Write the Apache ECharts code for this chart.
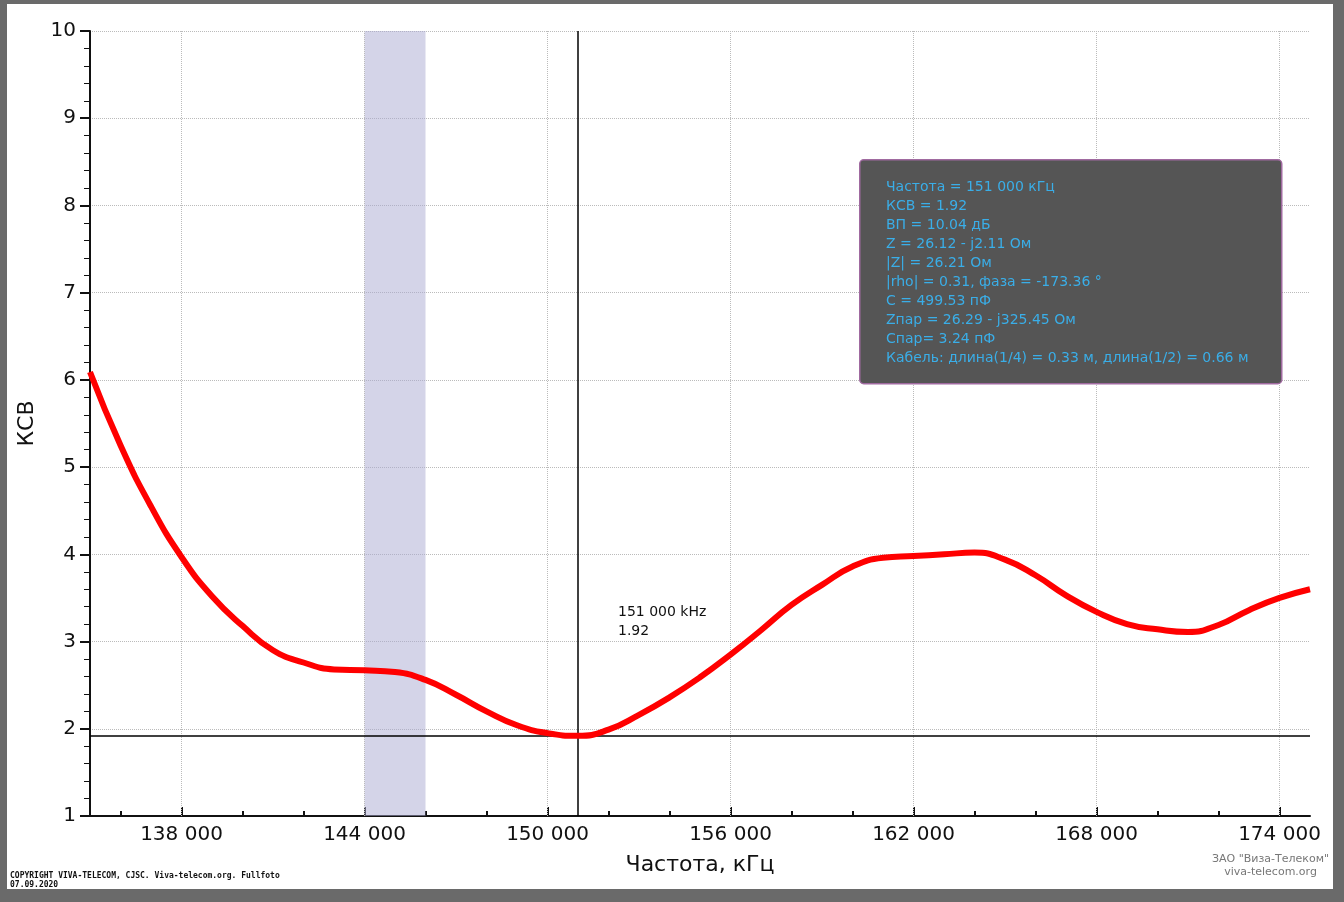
<!DOCTYPE html>
<html><head><meta charset="utf-8">
<script src="https://cdn.jsdelivr.net/npm/echarts@6/dist/echarts.min.js"></script>
<style>
html,body{margin:0;padding:0;background:#6a6a6a;}
#frame{position:absolute;left:7px;top:4px;width:1326px;height:885px;background:#fff;}
#c{position:absolute;left:0;top:0;width:1344px;height:902px;}
</style></head><body>
<div id="frame"></div>
<div id="c"></div>
<script>
const freqs = [135000,136000,137000,138000,139000,140000,141000,142000,143000,144000,145000,146000,147000,148000,149000,150000,151000,152000,153000,154000,155000,156000,157000,158000,159000,160000,161000,162000,163000,164000,165000,166000,167000,168000,169000,170000,171000,172000,173000,174000,175000];
const swr = [6.09,5.25,4.55,3.97,3.52,3.18,2.9,2.76,2.68,2.67,2.65,2.56,2.39,2.2,2.04,1.95,1.92,1.99,2.16,2.36,2.59,2.85,3.13,3.42,3.65,3.86,3.96,3.98,4.0,4.02,3.94,3.76,3.53,3.34,3.2,3.14,3.11,3.19,3.36,3.5,3.6];
const xTickLabels = [138000,144000,150000,156000,162000,168000,174000];
const xMinorTicks = [136000,140000,142000,146000,148000,152000,154000,158000,160000,164000,166000,170000,172000];
const bandRange = [144000,146000];
const markerFreq = 151000, markerSwr = 1.92;
const infoLines = ['Частота = 151 000 кГц','КСВ = 1.92','ВП = 10.04 дБ','Z = 26.12 - j2.11 Ом','|Z| = 26.21 Ом','|rho| = 0.31, фаза = -173.36 °','C = 499.53 пФ','Zпар = 26.29 - j325.45 Ом','Спар= 3.24 пФ','Кабель: длина(1/4) = 0.33 м, длина(1/2) = 0.66 м'];
const fmt = v => String(v).replace(/\B(?=(\d{3})+(?!\d))/g,' ');
const chart = echarts.init(document.getElementById('c'));
const F = 'Tahoma, "DejaVu Sans", sans-serif';
const X0 = 135000, X1 = 175000;
chart.setOption({
  animation:false,
  grid:{left:90,right:34,top:31,bottom:86},
  xAxis:[{type:'value',min:X0,max:X1,
    name:'Частота, кГц',nameLocation:'middle',nameGap:38,nameTextStyle:{fontSize:22,color:'#111',fontFamily:F},
    axisLine:{onZero:false,lineStyle:{color:'#111',width:2}},
    axisTick:{inside:true,length:5,customValues:xMinorTicks,lineStyle:{color:'#111',width:2}},
    axisLabel:{show:false},
    splitLine:{show:false}},
   {type:'value',min:X0,max:X1,position:'bottom',
    axisLine:{show:false},
    axisTick:{show:true,inside:true,length:9,customValues:xTickLabels,lineStyle:{color:'#111',width:2}},
    axisLabel:{fontSize:20,color:'#111',fontFamily:F,margin:9,formatter:v=>fmt(v),customValues:xTickLabels},
    splitLine:{show:false}}],
  yAxis:{type:'value',min:1,max:10,interval:1,
    name:'КСВ',nameLocation:'middle',nameGap:52,nameTextStyle:{fontSize:22,color:'#111',fontFamily:F},
    axisLine:{show:true,lineStyle:{color:'#111',width:2}},
    axisTick:{show:true,length:10,lineStyle:{color:'#111',width:2}},
    minorTick:{show:true,splitNumber:5,length:6,lineStyle:{color:'#111'}},
    axisLabel:{fontSize:20,color:'#111',fontFamily:F,margin:14},
    splitLine:{show:true,lineStyle:{color:'#bbb',type:'dotted'}}},
  series:[
   {type:'line',data:[],silent:true,z:1,
    markLine:{silent:true,symbol:'none',label:{show:false},lineStyle:{color:'#bbb',width:1,type:'dotted'},
      data:xTickLabels.map(v=>({xAxis:v}))}},
   {type:'line',data:freqs.map((f,i)=>[f,swr[i]]),smooth:0.5,symbol:'none',
    lineStyle:{color:'#f00',width:6},z:5,
    markArea:{silent:true,itemStyle:{color:'rgba(170,170,210,0.5)'},data:[[{xAxis:bandRange[0]},{xAxis:bandRange[1]}]]},
    markLine:{silent:true,symbol:'none',label:{show:false},lineStyle:{color:'#000',width:1.5,type:'solid'},
      data:[{xAxis:markerFreq},{yAxis:markerSwr}]}
  }],
  graphic:[
    {type:'text',left:618,top:603,style:{text:fmt(markerFreq)+' kHz\n'+markerSwr.toFixed(2),fontSize:14,lineHeight:19,fill:'#111',fontFamily:F}},
    {type:'rect',left:859,top:159,shape:{width:422,height:224,r:4},style:{fill:'#555',stroke:'#a06aa0',lineWidth:1.5},z:10},
    {type:'text',left:886,top:178,z:11,style:{text:infoLines.join('\n'),fontSize:14,lineHeight:19,fill:'#3aaee8',fontFamily:F}},
    {type:'text',left:10,top:871,style:{text:'COPYRIGHT VIVA-TELECOM, CJSC. Viva-telecom.org. Fullfoto\n07.09.2020',fontSize:8,lineHeight:9,fill:'#111',fontFamily:'"DejaVu Sans Mono", monospace',fontWeight:'bold'}},
    {type:'text',left:1212,top:853,style:{text:'ЗАО "Виза-Телеком"\nviva-telecom.org',textAlign:'center',fontSize:11,lineHeight:13,fill:'#777',fontFamily:F}}
  ]
});
</script></body></html>
